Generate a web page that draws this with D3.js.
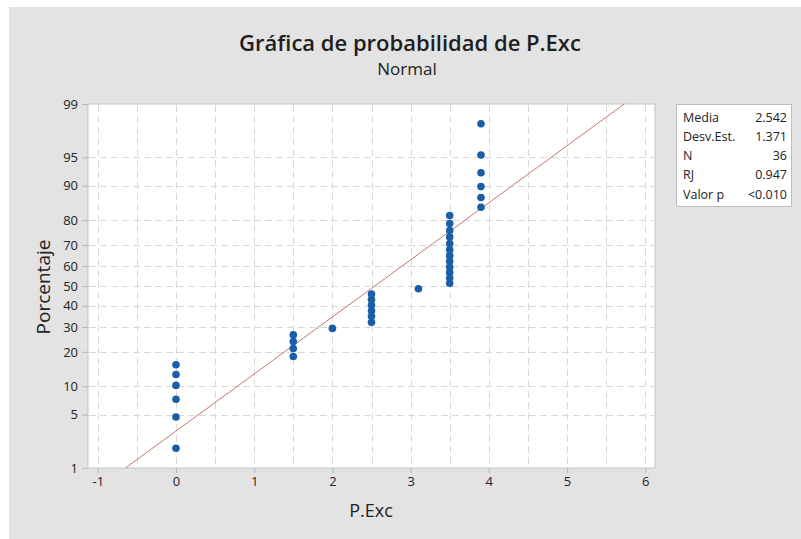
<!DOCTYPE html>
<html>
<head>
<meta charset="utf-8">
<script src="https://cdn.jsdelivr.net/npm/d3@7"></script>
<style>
  html, body { margin: 0; padding: 0; background: #ffffff; }
  svg { display: block; font-family: "Open Sans", "Noto Sans", sans-serif; }
</style>
</head>
<body>
<svg id="chart" width="801" height="539"></svg>
<script>
// ---- Data ----
const xValues = [0, 0, 0, 0, 0, 0,
                 1.5, 1.5, 1.5, 1.5,
                 2,
                 2.5, 2.5, 2.5, 2.5, 2.5, 2.5,
                 3.1,
                 3.5, 3.5, 3.5, 3.5, 3.5, 3.5, 3.5, 3.5, 3.5, 3.5, 3.5, 3.5,
                 3.9, 3.9, 3.9, 3.9, 3.9, 3.9];
const percentValues = [1.9, 4.7, 7.4, 10.2, 12.9, 15.7,
                       18.4, 21.2, 23.9, 26.6,
                       29.4,
                       32.1, 34.9, 37.6, 40.4, 43.1, 45.9,
                       48.6,
                       51.4, 54.1, 56.9, 59.6, 62.4, 65.1, 67.9, 70.6, 73.4, 76.1, 78.8, 81.6,
                       84.3, 87.1, 89.8, 92.6, 95.3, 98.1];
const xTicks = [-1, 0, 1, 2, 3, 4, 5, 6];
const xGrid = [-1, -0.5, 0, 0.5, 1, 1.5, 2, 2.5, 3, 3.5, 4, 4.5, 5, 5.5, 6];
const yTicks = [1, 5, 10, 20, 30, 40, 50, 60, 70, 80, 90, 95, 99];
const statLabels = ["Media", "Desv.Est.", "N", "RJ", "Valor p"];
const statValues = ["2.542", "1.371", "36", "0.947", "<0.010"];
const fitMean = 2.542;
const fitSd = 1.371;

// inverse normal CDF (Acklam)
function probit(p) {
  const a = [-3.969683028665376e+01, 2.209460984245205e+02, -2.759285104469687e+02, 1.383577518672690e+02, -3.066479806614716e+01, 2.506628277459239e+00];
  const b = [-5.447609879822406e+01, 1.615858368580409e+02, -1.556989798598866e+02, 6.680131188771972e+01, -1.328068155288572e+01];
  const c = [-7.784894002430293e-03, -3.223964580411365e-01, -2.400758277161838e+00, -2.549732539343734e+00, 4.374664141464968e+00, 2.938163982698783e+00];
  const d = [7.784695709041462e-03, 3.224671290700398e-01, 2.445134137142996e+00, 3.754408661907416e+00];
  const pl = 0.02425, ph = 1 - pl;
  let q, r;
  if (p < pl) {
    q = Math.sqrt(-2 * Math.log(p));
    return (((((c[0]*q+c[1])*q+c[2])*q+c[3])*q+c[4])*q+c[5]) / ((((d[0]*q+d[1])*q+d[2])*q+d[3])*q+1);
  } else if (p <= ph) {
    q = p - 0.5; r = q * q;
    return (((((a[0]*r+a[1])*r+a[2])*r+a[3])*r+a[4])*r+a[5])*q / (((((b[0]*r+b[1])*r+b[2])*r+b[3])*r+b[4])*r+1);
  } else {
    q = Math.sqrt(-2 * Math.log(1 - p));
    return -(((((c[0]*q+c[1])*q+c[2])*q+c[3])*q+c[4])*q+c[5]) / ((((d[0]*q+d[1])*q+d[2])*q+d[3])*q+1);
  }
}

const svg = d3.select("#chart");
const W = 801, H = 539;

// background
svg.append("rect").attr("x", 0).attr("y", 0).attr("width", W).attr("height", H).attr("fill", "#ffffff");
svg.append("rect").attr("x", 9).attr("y", 7).attr("width", W - 9).attr("height", H - 7).attr("fill", "#e3e3e3");

const plot = { left: 88, right: 655, top: 104, bottom: 468 };

const x = d3.scaleLinear().domain([-1.125, 6.125]).range([plot.left, plot.right]);
const zMax = probit(0.99);
const yz = d3.scaleLinear().domain([-zMax, zMax]).range([plot.bottom, plot.top]);
const y = p => yz(probit(p / 100));

// plot area
svg.append("rect")
  .attr("x", plot.left).attr("y", plot.top)
  .attr("width", plot.right - plot.left).attr("height", plot.bottom - plot.top)
  .attr("fill", "#ffffff").attr("stroke", "#c4c4c4").attr("stroke-width", 1);

const g = svg.append("g");

// grid
g.selectAll(".xg").data(xGrid).join("line")
  .attr("x1", d => Math.round(x(d)) + 0.5).attr("x2", d => Math.round(x(d)) + 0.5)
  .attr("y1", plot.top + 1).attr("y2", plot.bottom - 1)
  .attr("stroke", "#d9d9d9").attr("stroke-width", 1).attr("stroke-dasharray", "7,4");
g.selectAll(".yg").data(yTicks.filter(d => d > 1 && d < 99)).join("line")
  .attr("x1", plot.left + 1).attr("x2", plot.right - 1)
  .attr("y1", d => Math.round(y(d)) + 0.5).attr("y2", d => Math.round(y(d)) + 0.5)
  .attr("stroke", "#d9d9d9").attr("stroke-width", 1).attr("stroke-dasharray", "7,4");

// axes
const xAxis = d3.axisBottom(x).tickValues(xTicks).tickSize(5).tickPadding(4).tickFormat(d => String(d));
const gx = svg.append("g").attr("transform", `translate(0,${plot.bottom})`).call(xAxis);
gx.select(".domain").remove();
gx.selectAll(".tick line").attr("stroke", "#b8b8b8");
gx.selectAll(".tick text").attr("fill", "#222").attr("font-size", 13).attr("font-weight", 500)
  .attr("font-family", "Open Sans, Noto Sans, sans-serif");

const yAxis = d3.axisLeft(yz).tickValues(yTicks.map(p => probit(p / 100))).tickSize(6).tickPadding(4)
  .tickFormat((d, i) => yTicks[i]);
const gy = svg.append("g").attr("transform", `translate(${plot.left},0)`).call(yAxis);
gy.select(".domain").remove();
gy.selectAll(".tick line").attr("stroke", "#b8b8b8");
gy.selectAll(".tick text").attr("fill", "#222").attr("font-size", 13).attr("font-weight", 500)
  .attr("font-family", "Open Sans, Noto Sans, sans-serif");

// fitted line
const pLo = 0.01, pHi = 0.99;
const fit = [
  { xv: fitMean + fitSd * probit(pLo), p: pLo * 100 },
  { xv: fitMean + fitSd * probit(pHi), p: pHi * 100 }
];
g.append("line")
  .attr("x1", x(fit[0].xv)).attr("y1", y(fit[0].p))
  .attr("x2", x(fit[1].xv)).attr("y2", y(fit[1].p))
  .attr("stroke", "#c9756a").attr("stroke-width", 1);

// points
g.selectAll(".pt").data(xValues.map((v, i) => ({ v, p: percentValues[i] }))).join("circle")
  .attr("cx", d => x(d.v)).attr("cy", d => y(d.p)).attr("r", 3.8)
  .attr("fill", "#1a5ea8");

// titles
svg.append("text").attr("x", 410).attr("y", 51).attr("text-anchor", "middle")
  .attr("font-size", 22).attr("fill", "#1e1e1e").attr("font-weight", 600)
  .text("Gráfica de probabilidad de P.Exc");
svg.append("text").attr("x", 407).attr("y", 75).attr("text-anchor", "middle")
  .attr("font-size", 17).attr("fill", "#1e1e1e")
  .text("Normal");

svg.append("text").attr("x", 371).attr("y", 517).attr("text-anchor", "middle")
  .attr("font-size", 18).attr("fill", "#222")
  .text("P.Exc");
svg.append("text").attr("transform", "translate(50,287) rotate(-90)").attr("text-anchor", "middle")
  .attr("font-size", 19).attr("fill", "#222")
  .text("Porcentaje");

// legend box
const lg = svg.append("g");
lg.append("rect").attr("x", 676.5).attr("y", 104.5).attr("width", 115).attr("height", 102)
  .attr("fill", "#ffffff").attr("stroke", "#bdbdbd");
lg.selectAll(".sl").data(statLabels).join("text")
  .attr("x", 683).attr("y", (d, i) => 121.5 + i * 19.3)
  .attr("font-size", 12.5).attr("fill", "#222").text(d => d);
lg.selectAll(".sv").data(statValues).join("text")
  .attr("x", 787).attr("y", (d, i) => 121.5 + i * 19.3).attr("text-anchor", "end")
  .attr("font-size", 12.5).attr("fill", "#222").text(d => d);
</script>
</body>
</html>
